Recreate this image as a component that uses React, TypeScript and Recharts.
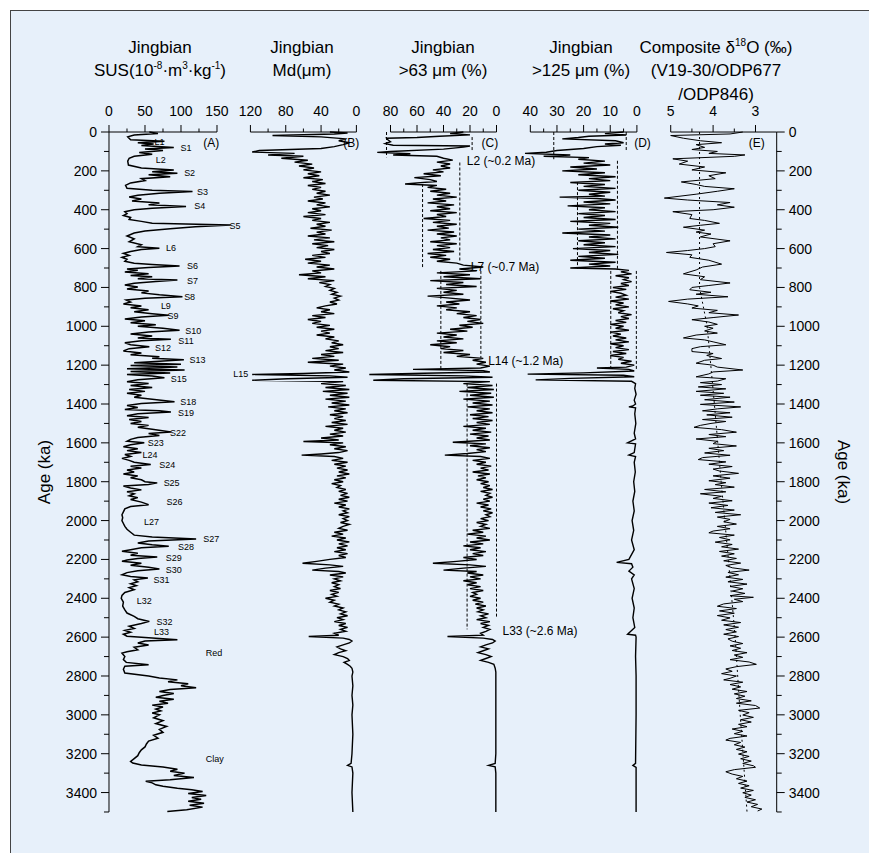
import React from 'react';
import { LineChart, Line, XAxis, YAxis, ReferenceLine, ReferenceDot } from 'recharts';

type Pt = [number, number];
type Seg = [number, number, number];
type Lab = [string, number, number];

const FONT = '"Liberation Sans", Arial, sans-serif';
const PLOT_TOP = 132;
const PLOT_H = 680;
const AXIS_H = 40;

const ageTicks = [0, 100, 200, 300, 400, 500, 600, 700, 800, 900, 1000, 1100, 1200, 1300, 1400, 1500, 1600, 1700,
  1800, 1900, 2000, 2100, 2200, 2300, 2400, 2500, 2600, 2700, 2800, 2900, 3000, 3100, 3200, 3300, 3400, 3500];

const susTicks = [0, 25, 50, 75, 100, 125, 150];
const susMajor = [0, 50, 100, 150];
const mdTicks = [0, 20, 40, 60, 80, 100, 120];
const mdMajor = [0, 40, 80, 120];
const c63Ticks = [0, 10, 20, 30, 40, 50, 60, 70, 80];
const c63Major = [0, 20, 40, 60, 80];
const c125Ticks = [0, 5, 10, 15, 20, 25, 30, 35, 40];
const c125Major = [0, 10, 20, 30, 40];
const d18OTicks = [3, 3.5, 4, 4.5, 5];
const d18OMajor = [3, 4, 5];

// magnetic susceptibility (age ka, SUS)
const susData: Pt[] = [
  [0, 56], [8, 68], [15, 35], [25, 26], [40, 30], [48, 77], [55, 40], [62, 62], [70, 45], [80, 90], [88, 50], [95, 75],
  [105, 42], [115, 60], [125, 35], [135, 28], [150, 26], [170, 27], [185, 45], [195, 90], [205, 60], [212, 95], [220, 55],
  [230, 85], [240, 45], [250, 50], [262, 30], [275, 23], [290, 25], [300, 60], [306, 116], [315, 70], [325, 40], [335, 28],
  [345, 45], [355, 32], [365, 70], [375, 55], [383, 107], [392, 60], [400, 35], [410, 22], [420, 25], [430, 20], [440, 30],
  [450, 28], [460, 45], [470, 60], [479, 169], [488, 120], [498, 85], [510, 50], [520, 35], [535, 25], [550, 35], [565, 28],
  [580, 45], [590, 40], [598, 70], [605, 45], [615, 30], [625, 20], [635, 28], [645, 18], [655, 25], [665, 22], [675, 35],
  [682, 60], [690, 98], [698, 55], [705, 25], [712, 40], [720, 22], [730, 55], [738, 30], [745, 60], [755, 40], [762, 95],
  [770, 65], [778, 35], [788, 22], [798, 40], [808, 25], [818, 55], [828, 45], [838, 70], [848, 102], [856, 50], [865, 24],
  [875, 30], [885, 20], [895, 45], [905, 30], [915, 55], [925, 35], [935, 60], [943, 83], [952, 45], [962, 22], [972, 50],
  [982, 30], [992, 65], [1000, 40], [1010, 75], [1020, 98], [1030, 55], [1040, 30], [1050, 60], [1060, 40], [1067, 86],
  [1075, 45], [1085, 22], [1095, 30], [1105, 56], [1115, 28], [1127, 20], [1137, 45], [1147, 30], [1157, 70], [1165, 60],
  [1172, 104], [1180, 70], [1188, 35], [1195, 100], [1202, 30], [1210, 95], [1218, 25], [1225, 105], [1233, 30], [1240, 85],
  [1248, 25], [1256, 60], [1265, 77], [1275, 40], [1285, 25], [1295, 55], [1305, 30], [1315, 60], [1325, 28], [1335, 50],
  [1345, 25], [1355, 45], [1365, 35], [1375, 60], [1388, 91], [1398, 45], [1408, 25], [1418, 40], [1428, 22], [1435, 70],
  [1441, 86], [1450, 40], [1460, 25], [1470, 55], [1480, 28], [1490, 45], [1500, 30], [1510, 55], [1520, 40], [1530, 60],
  [1544, 86], [1552, 55], [1562, 70], [1572, 40], [1582, 30], [1592, 25], [1600, 49], [1610, 30], [1620, 20], [1630, 40],
  [1640, 25], [1650, 45], [1660, 22], [1670, 30], [1680, 18], [1690, 28], [1700, 35], [1711, 58], [1720, 30], [1730, 45],
  [1740, 25], [1750, 35], [1760, 20], [1770, 40], [1780, 30], [1790, 45], [1800, 50], [1806, 67], [1814, 55], [1822, 20],
  [1832, 30], [1842, 45], [1852, 25], [1862, 35], [1872, 28], [1882, 40], [1892, 30], [1905, 45], [1918, 55], [1928, 30],
  [1940, 22], [1955, 20], [1970, 18], [1985, 19], [2000, 18], [2015, 20], [2030, 22], [2045, 25], [2060, 30], [2075, 35],
  [2085, 60], [2095, 121], [2105, 55], [2115, 40], [2125, 60], [2132, 83], [2140, 45], [2150, 30], [2158, 18], [2168, 40],
  [2178, 30], [2187, 67], [2195, 40], [2203, 25], [2210, 18], [2220, 45], [2230, 30], [2240, 55], [2249, 70], [2258, 40],
  [2268, 25], [2279, 18], [2288, 30], [2296, 54], [2305, 35], [2315, 40], [2325, 30], [2335, 38], [2345, 28], [2356, 35],
  [2370, 22], [2385, 18], [2400, 17], [2420, 20], [2440, 19], [2460, 22], [2476, 25], [2493, 35], [2505, 40], [2519, 56],
  [2530, 45], [2544, 28], [2555, 35], [2565, 22], [2575, 30], [2585, 20], [2595, 25], [2605, 60], [2613, 95], [2620, 50],
  [2630, 40], [2640, 55], [2652, 35], [2665, 40], [2675, 25], [2682, 18], [2700, 22], [2715, 20], [2730, 24], [2742, 55],
  [2750, 22], [2765, 20], [2785, 22], [2800, 55], [2810, 70], [2820, 95], [2830, 82], [2840, 110], [2850, 100], [2860, 121],
  [2870, 85], [2880, 70], [2890, 90], [2900, 75], [2910, 65], [2920, 90], [2930, 70], [2940, 82], [2950, 60], [2960, 75],
  [2970, 65], [2980, 72], [2991, 60], [3000, 70], [3015, 62], [3030, 75], [3045, 65], [3060, 80], [3075, 70], [3090, 75],
  [3105, 62], [3120, 68], [3135, 55], [3150, 52], [3165, 50], [3180, 45], [3195, 42], [3210, 40], [3225, 35], [3240, 30],
  [3248, 33], [3258, 45], [3268, 75], [3280, 95], [3290, 85], [3300, 105], [3312, 90], [3322, 118], [3334, 85], [3342, 51],
  [3350, 60], [3360, 65], [3368, 75], [3378, 95], [3385, 115], [3395, 130], [3405, 110], [3415, 135], [3425, 115],
  [3435, 128], [3445, 110], [3455, 132], [3465, 112], [3475, 130], [3488, 108], [3497, 81],
];

// median grain size (age ka, µm)
const mdData: Pt[] = [
  [0, 30], [5, 10], [10, 25], [18, 95], [25, 40], [35, 12], [45, 20], [55, 8], [65, 15], [75, 25], [85, 40], [95, 110],
  [103, 118], [110, 70], [118, 100], [125, 60], [135, 85], [145, 55], [155, 70], [165, 50], [175, 65], [185, 48], [195, 60],
  [205, 40], [215, 55], [225, 42], [235, 60], [245, 38], [255, 50], [265, 35], [275, 55], [285, 40], [295, 50], [305, 35],
  [315, 45], [325, 30], [335, 48], [345, 38], [355, 55], [365, 35], [375, 45], [385, 30], [395, 50], [405, 40], [415, 55],
  [425, 35], [435, 60], [445, 40], [455, 50], [465, 30], [475, 45], [485, 35], [495, 52], [505, 28], [515, 45], [525, 35],
  [535, 55], [545, 30], [555, 48], [565, 25], [575, 50], [585, 32], [595, 45], [605, 25], [615, 40], [625, 30], [635, 50],
  [645, 35], [655, 58], [665, 40], [675, 55], [685, 30], [695, 45], [705, 25], [715, 50], [725, 40], [735, 65], [745, 35],
  [755, 55], [765, 25], [775, 42], [785, 30], [795, 35], [805, 25], [815, 30], [825, 22], [835, 28], [845, 18], [855, 25],
  [865, 20], [875, 30], [885, 22], [895, 35], [905, 45], [915, 30], [925, 40], [935, 25], [945, 50], [955, 35], [965, 55],
  [975, 40], [985, 50], [995, 30], [1005, 45], [1015, 25], [1025, 40], [1035, 30], [1045, 45], [1055, 25], [1065, 35],
  [1075, 20], [1085, 28], [1095, 15], [1105, 30], [1115, 20], [1125, 35], [1135, 15], [1145, 40], [1155, 25], [1165, 50],
  [1175, 20], [1185, 55], [1195, 15], [1205, 30], [1215, 12], [1225, 25], [1235, 8], [1243, 60], [1248, 118], [1255, 30],
  [1262, 10], [1270, 78], [1278, 118], [1285, 15], [1295, 40], [1305, 12], [1315, 35], [1325, 8], [1335, 38], [1345, 10],
  [1355, 30], [1365, 8], [1375, 35], [1385, 12], [1395, 28], [1405, 8], [1415, 32], [1425, 12], [1435, 25], [1445, 10],
  [1455, 30], [1465, 15], [1475, 25], [1485, 12], [1495, 28], [1505, 10], [1515, 35], [1525, 15], [1535, 25], [1545, 12],
  [1555, 30], [1565, 15], [1575, 40], [1585, 20], [1593, 60], [1600, 15], [1610, 30], [1620, 12], [1630, 25], [1640, 10],
  [1650, 20], [1657, 40], [1663, 62], [1670, 25], [1680, 15], [1690, 28], [1700, 10], [1710, 25], [1720, 12], [1730, 22],
  [1740, 10], [1750, 20], [1760, 8], [1770, 22], [1780, 12], [1790, 25], [1800, 15], [1810, 28], [1820, 18], [1830, 22],
  [1840, 12], [1850, 20], [1860, 10], [1870, 18], [1880, 8], [1890, 20], [1900, 10], [1910, 25], [1920, 12], [1930, 20],
  [1940, 8], [1950, 15], [1960, 10], [1970, 20], [1980, 8], [1990, 15], [2000, 10], [2010, 18], [2020, 8], [2030, 15],
  [2040, 20], [2050, 10], [2060, 25], [2070, 15], [2080, 28], [2090, 12], [2100, 22], [2110, 8], [2120, 20], [2130, 10],
  [2140, 22], [2150, 12], [2160, 25], [2170, 10], [2180, 20], [2190, 12], [2200, 30], [2210, 45], [2220, 61], [2228, 30],
  [2236, 15], [2245, 35], [2255, 50], [2262, 20], [2270, 12], [2280, 30], [2290, 15], [2300, 25], [2310, 18], [2320, 28],
  [2330, 20], [2340, 25], [2350, 18], [2360, 30], [2370, 20], [2380, 28], [2390, 22], [2400, 35], [2410, 25], [2420, 30],
  [2430, 20], [2440, 25], [2450, 15], [2460, 20], [2470, 12], [2480, 18], [2490, 10], [2500, 22], [2510, 15], [2520, 25],
  [2530, 12], [2540, 20], [2550, 10], [2560, 18], [2570, 12], [2580, 25], [2590, 20], [2597, 54], [2605, 15], [2612, 8],
  [2620, 5], [2630, 8], [2640, 15], [2650, 22], [2660, 18], [2670, 12], [2680, 20], [2690, 25], [2700, 15], [2710, 10],
  [2720, 8], [2730, 14], [2740, 10], [2750, 7], [2760, 5], [2780, 4], [2800, 5], [2850, 4], [2900, 5], [2950, 4], [3000, 5],
  [3100, 4], [3200, 5], [3250, 6], [3260, 10], [3268, 5], [3300, 4], [3400, 5], [3500, 4],
];

// >63 µm fraction (age ka, %)
const c63Data: Pt[] = [
  [0, 25], [8, 35], [15, 20], [22, 43], [28, 60], [32, 83], [40, 82], [50, 80], [60, 84], [68, 78], [72, 20], [78, 25],
  [88, 40], [100, 80], [105, 90], [112, 65], [118, 78], [125, 45], [135, 40], [145, 33], [155, 45], [165, 35], [175, 42],
  [185, 35], [195, 48], [205, 40], [215, 55], [225, 42], [235, 62], [245, 50], [255, 45], [262, 60], [268, 69], [275, 45],
  [285, 52], [295, 38], [305, 50], [315, 35], [325, 45], [335, 30], [345, 48], [355, 38], [365, 52], [375, 32], [385, 45],
  [395, 35], [405, 50], [415, 30], [425, 45], [435, 38], [445, 55], [455, 35], [465, 48], [475, 30], [485, 45], [495, 36],
  [505, 52], [515, 32], [525, 45], [535, 30], [545, 42], [555, 35], [565, 50], [575, 30], [585, 45], [595, 35], [605, 48],
  [615, 32], [625, 52], [635, 38], [645, 50], [655, 35], [665, 45], [675, 30], [685, 25], [695, 10], [705, 28], [715, 15],
  [725, 45], [735, 20], [745, 40], [755, 12], [765, 50], [775, 25], [785, 38], [795, 15], [805, 45], [815, 30], [825, 40],
  [835, 25], [845, 52], [855, 35], [865, 20], [875, 38], [885, 28], [895, 45], [905, 30], [915, 38], [925, 20], [935, 30],
  [945, 15], [955, 25], [965, 12], [975, 22], [985, 10], [995, 28], [1005, 18], [1015, 35], [1025, 22], [1035, 45],
  [1045, 30], [1055, 40], [1065, 25], [1075, 45], [1085, 30], [1095, 50], [1105, 35], [1115, 42], [1125, 25], [1135, 40],
  [1145, 20], [1155, 30], [1165, 10], [1175, 18], [1185, 8], [1195, 15], [1205, 5], [1215, 12], [1222, 63], [1228, 10],
  [1235, 5], [1242, 55], [1248, 96], [1255, 25], [1262, 3], [1270, 70], [1278, 93], [1285, 5], [1295, 25], [1305, 3],
  [1315, 22], [1325, 2], [1335, 28], [1345, 4], [1355, 20], [1365, 2], [1375, 25], [1385, 5], [1395, 18], [1405, 3],
  [1415, 22], [1425, 5], [1435, 15], [1445, 3], [1455, 20], [1465, 6], [1475, 18], [1485, 3], [1495, 15], [1505, 5],
  [1515, 25], [1525, 8], [1535, 18], [1545, 4], [1555, 20], [1565, 6], [1575, 15], [1585, 5], [1597, 33], [1605, 8],
  [1615, 20], [1625, 5], [1635, 15], [1645, 8], [1655, 22], [1663, 39], [1670, 12], [1680, 5], [1690, 18], [1700, 8],
  [1710, 15], [1720, 4], [1730, 12], [1740, 6], [1750, 18], [1760, 5], [1770, 14], [1780, 8], [1790, 15], [1800, 6],
  [1810, 12], [1820, 5], [1830, 10], [1840, 3], [1850, 12], [1860, 5], [1870, 8], [1880, 3], [1890, 10], [1900, 5],
  [1910, 15], [1920, 6], [1930, 12], [1940, 4], [1950, 10], [1960, 3], [1970, 8], [1980, 5], [1990, 12], [2000, 6],
  [2010, 15], [2020, 8], [2030, 12], [2040, 5], [2050, 18], [2060, 10], [2070, 22], [2080, 8], [2090, 15], [2100, 5],
  [2110, 20], [2120, 10], [2130, 25], [2140, 12], [2150, 20], [2160, 8], [2170, 18], [2180, 10], [2190, 25], [2200, 15],
  [2210, 30], [2220, 48], [2228, 20], [2236, 8], [2245, 25], [2255, 40], [2262, 15], [2270, 22], [2280, 10], [2290, 20],
  [2300, 12], [2310, 25], [2320, 15], [2330, 22], [2340, 12], [2350, 20], [2360, 10], [2370, 18], [2380, 15], [2390, 20],
  [2400, 12], [2410, 18], [2420, 10], [2430, 16], [2440, 8], [2450, 15], [2460, 10], [2470, 14], [2480, 6], [2490, 12],
  [2500, 8], [2510, 15], [2520, 5], [2530, 12], [2540, 6], [2550, 10], [2560, 5], [2570, 8], [2580, 12], [2590, 10],
  [2597, 37], [2605, 10], [2612, 3], [2620, 1], [2630, 3], [2640, 8], [2650, 12], [2660, 6], [2670, 10], [2680, 14],
  [2690, 8], [2700, 4], [2710, 8], [2720, 12], [2730, 6], [2740, 2], [2760, 1], [2780, 0.5], [2800, 0.5], [3000, 0.5],
  [3200, 0.5], [3250, 1], [3260, 6], [3268, 1], [3300, 0.5], [3500, 0.5],
];

// >125 µm fraction (age ka, %)
const c125Data: Pt[] = [
  [0, 5], [8, 12], [15, 4], [22, 18], [28, 22], [35, 28], [45, 8], [55, 5], [62, 12], [68, 6], [75, 15], [85, 20], [95, 30],
  [104, 34], [110, 42], [118, 25], [125, 35], [132, 18], [140, 22], [150, 12], [160, 20], [170, 10], [180, 25], [190, 15],
  [200, 28], [210, 12], [220, 22], [230, 8], [240, 18], [250, 10], [260, 25], [270, 12], [280, 20], [290, 8], [300, 22],
  [310, 10], [320, 18], [330, 12], [335, 29], [342, 15], [350, 8], [360, 20], [370, 10], [380, 26], [390, 12], [400, 18],
  [410, 8], [420, 22], [430, 12], [440, 20], [450, 8], [460, 25], [470, 10], [480, 18], [490, 7], [500, 22], [510, 12],
  [520, 28], [530, 10], [540, 18], [550, 8], [560, 22], [570, 12], [580, 20], [590, 8], [600, 24], [610, 10], [620, 18],
  [630, 7], [640, 22], [650, 12], [660, 25], [670, 8], [680, 18], [690, 10], [700, 25], [705, 8], [712, 3], [720, 6],
  [730, 2], [740, 8], [750, 3], [760, 5], [770, 2], [780, 6], [790, 3], [800, 9], [810, 4], [820, 10], [830, 6], [840, 4],
  [850, 8], [860, 3], [870, 10], [880, 5], [890, 8], [900, 3], [910, 9], [920, 5], [930, 7], [940, 2], [950, 6], [960, 3],
  [970, 8], [980, 4], [990, 10], [1000, 5], [1010, 8], [1020, 3], [1030, 10], [1040, 6], [1050, 9], [1060, 4], [1070, 8],
  [1080, 3], [1090, 10], [1100, 5], [1110, 8], [1120, 3], [1130, 9], [1140, 4], [1150, 10], [1160, 5], [1170, 7], [1180, 2],
  [1190, 6], [1200, 1], [1210, 4], [1215, 15], [1222, 3], [1230, 1], [1240, 20], [1246, 41], [1252, 5], [1260, 1],
  [1268, 25], [1276, 38], [1283, 2], [1295, 0.5], [1320, 0.8], [1350, 0.3], [1380, 1], [1400, 0.5], [1410, 1.5],
  [1415, 3], [1420, 0.5], [1450, 0.8], [1500, 0.4], [1550, 1], [1580, 0.5], [1600, 3.5], [1605, 0.5], [1650, 1],
  [1663, 3], [1670, 0.5], [1700, 1], [1750, 0.6], [1800, 1.2], [1850, 0.8], [1900, 1.5], [1950, 1], [2000, 1.8],
  [2050, 1.2], [2100, 2], [2150, 1], [2200, 3], [2215, 7.6], [2222, 2], [2240, 1.5], [2260, 3], [2280, 1], [2300, 2],
  [2350, 1], [2400, 1.8], [2450, 1], [2500, 1.5], [2550, 0.8], [2585, 3.5], [2590, 0.5], [2600, 0.3], [2700, 0.5],
  [2800, 0.3], [3000, 0.3], [3250, 0.5], [3260, 1.5], [3270, 0.3], [3500, 0.3],
];

// composite benthic d18O (age ka, permil)
const d18OData: Pt[] = [
  [0, 3.3], [10, 3.6], [18, 5.0], [25, 4.85], [32, 4.7], [45, 4.3], [55, 3.8], [65, 4.4], [79, 4.2], [90, 4.5], [100, 3.9],
  [110, 4.1], [118, 3.25], [125, 3.5], [138, 4.95], [150, 4.6], [165, 4.8], [180, 4.2], [195, 4.5], [210, 3.7], [225, 4.1],
  [240, 3.95], [257, 4.75], [270, 4.4], [280, 4.2], [292, 3.5], [305, 3.9], [320, 4.4], [340, 5.15], [350, 4.6], [363, 3.6],
  [375, 3.9], [387, 3.5], [400, 4.0], [410, 4.95], [425, 4.5], [445, 4.55], [455, 4.2], [470, 3.85], [480, 4.3], [490, 4.7],
  [505, 4.2], [515, 4.4], [525, 4.05], [540, 4.3], [560, 3.6], [575, 4.0], [590, 3.95], [600, 4.2], [610, 4.6], [620, 5.1],
  [632, 4.5], [645, 4.55], [660, 4.1], [680, 3.8], [695, 4.25], [710, 4.4], [730, 4.7], [745, 4.2], [760, 4.3], [777, 3.6],
  [790, 4.1], [800, 4.5], [812, 4.55], [825, 4.05], [835, 4.4], [848, 3.65], [860, 4.6], [872, 5.05], [885, 4.6],
  [895, 4.35], [906, 4.5], [918, 3.9], [930, 4.1], [942, 3.4], [955, 4.0], [966, 4.5], [978, 4.1], [990, 3.9], [1000, 4.2],
  [1010, 4.0], [1024, 4.2], [1035, 3.9], [1045, 4.4], [1060, 4.7], [1070, 4.2], [1080, 4.0], [1095, 3.7], [1105, 4.3],
  [1115, 4.5], [1130, 4.5], [1140, 4.0], [1150, 4.15], [1166, 3.8], [1175, 4.2], [1190, 4.4], [1200, 4.0], [1210, 3.9],
  [1225, 3.3], [1235, 4.0], [1245, 4.1], [1260, 4.4], [1270, 3.7], [1282, 3.9], [1290, 4.3], [1300, 3.8], [1312, 4.35],
  [1322, 3.7], [1335, 4.4], [1345, 3.75], [1355, 4.3], [1365, 3.6], [1378, 4.2], [1390, 3.5], [1402, 4.3], [1415, 3.35],
  [1425, 3.9], [1435, 4.25], [1445, 3.6], [1456, 4.15], [1468, 3.55], [1480, 4.25], [1490, 3.7], [1500, 4.05], [1510, 4.3],
  [1520, 4.45], [1532, 3.8], [1545, 3.45], [1557, 4.1], [1568, 3.7], [1580, 4.4], [1592, 3.9], [1604, 4.0], [1616, 3.45],
  [1628, 4.1], [1640, 3.75], [1652, 4.2], [1664, 3.6], [1676, 4.25], [1686, 4.35], [1698, 3.7], [1710, 4.1], [1722, 3.55],
  [1735, 4.0], [1745, 3.85], [1757, 3.4], [1770, 4.0], [1782, 3.6], [1795, 4.1], [1805, 3.7], [1815, 3.95], [1828, 3.5],
  [1840, 4.2], [1852, 3.7], [1862, 4.3], [1875, 3.8], [1886, 4.0], [1898, 3.55], [1910, 4.1], [1922, 3.65], [1934, 4.05],
  [1946, 3.5], [1958, 3.95], [1970, 3.35], [1982, 3.9], [1994, 3.6], [2006, 3.75], [2018, 3.45], [2030, 3.9], [2042, 3.6],
  [2054, 4.0], [2063, 4.1], [2075, 3.5], [2087, 3.85], [2099, 3.6], [2111, 3.95], [2123, 3.55], [2135, 3.8], [2147, 3.4],
  [2159, 3.85], [2171, 3.5], [2183, 3.8], [2195, 3.45], [2207, 3.75], [2219, 3.35], [2231, 3.7], [2243, 3.55], [2255, 3.15],
  [2267, 3.65], [2279, 3.4], [2291, 3.7], [2303, 3.3], [2315, 3.65], [2327, 3.2], [2339, 3.6], [2351, 3.3], [2363, 3.55],
  [2375, 3.25], [2387, 3.6], [2395, 3.05], [2405, 3.5], [2417, 3.3], [2429, 3.75], [2441, 3.9], [2453, 3.45], [2465, 3.85],
  [2477, 3.5], [2489, 3.9], [2501, 3.6], [2513, 3.8], [2525, 3.35], [2537, 3.75], [2549, 3.4], [2561, 3.7], [2573, 3.45],
  [2585, 3.75], [2597, 3.4], [2609, 3.65], [2621, 3.55], [2633, 3.3], [2645, 3.6], [2657, 3.35], [2669, 3.55], [2680, 3.2],
  [2692, 3.5], [2704, 3.3], [2716, 3.6], [2728, 3.15], [2740, 2.98], [2752, 3.45], [2764, 3.7], [2776, 3.55], [2788, 3.8],
  [2800, 3.45], [2812, 3.6], [2820, 3.75], [2832, 3.3], [2844, 3.6], [2856, 3.35], [2868, 3.55], [2880, 3.2], [2892, 3.5],
  [2904, 3.25], [2916, 3.45], [2928, 3.1], [2940, 3.45], [2952, 3.0], [2965, 2.9], [2977, 3.4], [2989, 3.15], [3001, 3.3],
  [3013, 3.05], [3025, 3.35], [3037, 3.1], [3049, 3.4], [3061, 3.2], [3073, 3.55], [3085, 3.3], [3097, 3.5], [3109, 3.2],
  [3121, 3.6], [3130, 3.7], [3142, 3.35], [3154, 3.5], [3166, 3.25], [3178, 3.45], [3190, 3.2], [3202, 3.4], [3214, 3.15],
  [3226, 3.35], [3238, 3.1], [3250, 3.3], [3262, 3.05], [3270, 3.0], [3282, 3.5], [3293, 3.7], [3305, 3.55], [3317, 3.3],
  [3329, 3.45], [3341, 3.2], [3353, 3.4], [3365, 3.15], [3377, 3.35], [3389, 3.05], [3401, 3.3], [3413, 3.1], [3425, 3.25],
  [3437, 3.0], [3449, 3.2], [3461, 2.95], [3473, 3.1], [3485, 2.85], [3495, 2.95],
];

const d18OTrend: Pt[] = [
  [0, 4.32], [800, 4.32], [1000, 4.14], [1400, 3.97], [1800, 3.81], [2200, 3.64], [2600, 3.48], [3000, 3.36], [3500, 3.2],
];

// dashed range markers: value, age from, age to
const c63Ranges: Seg[] = [
  [83, 0, 130], [18.4, 26, 98], [55.8, 268, 697], [27.7, 157, 662], [42, 715, 1225], [11.8, 715, 1163],
  [22.2, 1295, 2560], [0, 1295, 2500],
];
const c125Ranges: Seg[] = [
  [31.2, 0, 140], [4, 0, 96], [22.3, 258, 704], [7.3, 148, 704], [9.8, 715, 1225], [0.2, 715, 1225],
];

const susLabels: Lab[] = [
  ['L1', 48, 70], ['S1', 82, 107], ['L2', 143, 72], ['S2', 211, 112], ['S3', 307, 130], ['S4', 382, 126],
  ['S5', 482, 175], ['L6', 597, 86], ['S6', 690, 116], ['S7', 765, 116], ['S8', 848, 112], ['L9', 896, 79],
  ['S9', 947, 89], ['S10', 1021, 117], ['S11', 1072, 107], ['S12', 1110, 75], ['S13', 1173, 123], ['L15', 1246, 183],
  ['S15', 1268, 97], ['S18', 1388, 110], ['S19', 1443, 107], ['S22', 1546, 96], ['S23', 1602, 65], ['L24', 1659, 57],
  ['S24', 1712, 81], ['S25', 1803, 87], ['S26', 1904, 91], ['L27', 2004, 59], ['S27', 2095, 142], ['S28', 2134, 107],
  ['S29', 2192, 90], ['S30', 2253, 90], ['S31', 2307, 73], ['L32', 2415, 49], ['S32', 2520, 77], ['L33', 2570, 73],
  ['Red', 2683, 146], ['Clay', 3227, 147],
];
const c63Labels: Lab[] = [
  ['L2 (~0.2 Ma)', 148, 22.4], ['L7 (~0.7 Ma)', 691, 19.4], ['L14 (~1.2 Ma)', 1177, 6.3], ['L33 (~2.6 Ma)', 2568, -4.5],
];

const rows = (pts: Pt[]) => pts.map(([age, v]) => ({ age, v }));

const topTick = (majors: number[]) => (p: any) => {
  const v = p.payload.value;
  const major = majors.includes(v);
  return (
    <g>
      <line x1={p.x} y1={p.y} x2={p.x} y2={p.y - (major ? 7 : 3.5)} stroke="#000" />
      {major && (
        <text x={p.x} y={p.y - 16} textAnchor="middle" fontSize={14} fontFamily={FONT} fill="#000">{v}</text>
      )}
    </g>
  );
};

const ageTick = (side: 'left' | 'right') => (p: any) => {
  const v = p.payload.value;
  const major = v % 200 === 0;
  const s = side === 'left' ? -1 : 1;
  return (
    <g>
      <line x1={p.x} y1={p.y} x2={p.x + s * (major ? 8 : 5)} y2={p.y} stroke="#000" />
      {major && (
        <text x={p.x + s * 12} y={p.y} dy="0.36em" textAnchor={side === 'left' ? 'end' : 'start'} fontSize={14}
          fontFamily={FONT} fill="#000">{v}</text>
      )}
    </g>
  );
};

const textMark = (label: string, size: number, anchor: string) => (p: any) => (
  <text x={p.cx} y={p.cy} dy="0.36em" textAnchor={anchor} fontSize={size} fontFamily={FONT} fill="#000">{label}</text>
);

const topAxis = (domain: number[], reversed: boolean, ticks: number[], majors: number[]) => (
  <XAxis type="number" orientation="top" domain={domain} reversed={reversed} ticks={ticks} interval={0} height={AXIS_H}
    axisLine={false} tickLine={false} tickSize={0} tickMargin={0} tick={topTick(majors)} />
);

const axisLine = (from: number, to: number) => (
  <ReferenceLine segment={[{ x: from, y: 0 }, { x: to, y: 0 }]} stroke="#000" ifOverflow="visible" />
);

const seriesLine = (pts: Pt[], key: string, w = 1.4) => (
  <Line key={key} data={rows(pts)} dataKey="v" type="linear" stroke="#000" strokeWidth={w} dot={false}
    strokeLinejoin="miter" isAnimationActive={false} />
);

const rangeLines = (segs: Seg[], key: string) =>
  segs.map(([v, a0, a1], i) => (
    <Line key={key + i} data={rows([[a0, v], [a1, v]])} dataKey="v" type="linear" stroke="#000" strokeWidth={1}
      strokeDasharray="3 2" dot={false} isAnimationActive={false} />
  ));

const hiddenAge = <YAxis type="number" dataKey="age" domain={[0, 3500]} hide />;

// plot area left/width in page pixels; axisLeft/axisRight = room taken by a visible age axis
const Strip = ({ left, width, axisLeft = 0, axisRight = 0, children }: any) => (
  <div style={{ position: 'absolute', left: left - axisLeft, top: PLOT_TOP - AXIS_H }}>
    <LineChart width={width + axisLeft + axisRight} height={AXIS_H + PLOT_H} layout="vertical"
      margin={{ top: 0, right: 0, bottom: 0, left: 0 }}>
      {children}
    </LineChart>
  </div>
);

const TITLE_Y = [47.5, 71, 94.5];
const Title = ({ cx, lines }: { cx: number; lines: React.ReactNode[] }) => (
  <>
    {lines.map((l, i) => (
      <div key={i} style={{ position: 'absolute', left: cx - 110, width: 220, top: TITLE_Y[i] - 9, height: 18,
        lineHeight: '18px', textAlign: 'center', fontFamily: FONT, fontSize: 17, color: '#000', whiteSpace: 'nowrap' }}>
        {l}
      </div>
    ))}
  </>
);

const sup = (t: string) => <sup style={{ fontSize: 10, verticalAlign: 'baseline', position: 'relative', top: -7 }}>{t}</sup>;

export default function App() {
  return (
    <div style={{ position: 'absolute', left: 0, top: 0, width: 869, height: 853, overflow: 'hidden', background: '#fff' }}>
      <style>{'.recharts-surface{overflow:visible}.recharts-wrapper{overflow:visible}'}</style>
      <div style={{ position: 'absolute', left: 10, top: 10, width: 900, height: 900, background: '#e7f0fa',
        borderLeft: '1px solid #444', borderTop: '1px solid #444' }} />

      <Title cx={160} lines={['Jingbian', <>SUS(10{sup('-8')}·m{sup('3')}·kg{sup('-1')})</>]} />
      <Title cx={302} lines={['Jingbian', 'Md(μm)']} />
      <Title cx={443} lines={['Jingbian', '>63 μm (%)']} />
      <Title cx={581} lines={['Jingbian', '>125 μm (%)']} />
      <Title cx={716} lines={[<>Composite δ{sup('18')}O (‰)</>, '(V19-30/ODP677', '/ODP846)']} />

      <div style={{ position: 'absolute', left: -5, top: 462, width: 100, height: 20, lineHeight: '20px', textAlign: 'center',
        fontFamily: FONT, fontSize: 17, transform: 'rotate(-90deg)' }}>Age (ka)</div>
      <div style={{ position: 'absolute', left: 793, top: 462, width: 100, height: 20, lineHeight: '20px', textAlign: 'center',
        fontFamily: FONT, fontSize: 17, transform: 'rotate(90deg)' }}>Age (ka)</div>

      {/* A: SUS */}
      <Strip left={109} width={129.6} axisLeft={60}>
        {topAxis([0, 180], false, susTicks, susMajor)}
        <YAxis type="number" dataKey="age" domain={[0, 3500]} ticks={ageTicks} interval={0} width={60} orientation="left"
          tickLine={false} tickSize={0} tickMargin={0} tick={ageTick('left')} stroke="#000" />
        {axisLine(0, 150)}
        {seriesLine(susData, 'sus', 1.5)}
        {susLabels.map(([t, a, v]) => (
          <ReferenceDot key={t} x={v} y={a} r={0} ifOverflow="visible" shape={textMark(t, 9, 'middle')} />
        ))}
        <ReferenceDot x={142} y={53} r={0} ifOverflow="visible" shape={textMark('(A)', 12, 'middle')} />
      </Strip>

      {/* B: Md */}
      <Strip left={245.6} width={110.4}>
        {topAxis([0, 125], true, mdTicks, mdMajor)}
        {hiddenAge}
        {axisLine(120, 0)}
        {seriesLine(mdData, 'md')}
        <ReferenceDot x={5.7} y={57} r={0} ifOverflow="visible" shape={textMark('(B)', 12, 'middle')} />
      </Strip>

      {/* C: >63 um */}
      <Strip left={364.2} width={132.5}>
        {topAxis([0, 100], true, c63Ticks, c63Major)}
        {hiddenAge}
        {axisLine(80, 0)}
        {rangeLines(c63Ranges, 'r63')}
        {seriesLine(c63Data, 'c63')}
        {c63Labels.map(([t, a, v]) => (
          <ReferenceDot key={t} x={v} y={a} r={0} ifOverflow="visible" shape={textMark(t, 12, 'start')} />
        ))}
        <ReferenceDot x={5} y={53} r={0} ifOverflow="visible" shape={textMark('(C)', 12, 'middle')} />
      </Strip>

      {/* D: >125 um */}
      <Strip left={517.4} width={119.9}>
        {topAxis([0, 45], true, c125Ticks, c125Major)}
        {hiddenAge}
        {axisLine(40, 0)}
        {rangeLines(c125Ranges, 'r125')}
        {seriesLine(c125Data, 'c125')}
        <ReferenceDot x={-2.1} y={53} r={0} ifOverflow="visible" shape={textMark('(D)', 12, 'middle')} />
      </Strip>

      {/* E: d18O */}
      <Strip left={658.3} width={118.7} axisRight={70}>
        {topAxis([2.5, 5.3], true, d18OTicks, d18OMajor)}
        <YAxis type="number" dataKey="age" domain={[0, 3500]} ticks={ageTicks} interval={0} width={70} orientation="right"
          tickLine={false} tickSize={0} tickMargin={0} tick={ageTick('right')} stroke="#000" />
        {axisLine(5, 2.5)}
        <Line data={rows(d18OTrend)} dataKey="v" type="linear" stroke="#000" strokeWidth={1} strokeDasharray="2 3"
          dot={false} isAnimationActive={false} />
        {seriesLine(d18OData, 'd18o', 1)}
        <ReferenceDot x={2.97} y={56} r={0} ifOverflow="visible" shape={textMark('(E)', 12, 'middle')} />
      </Strip>
    </div>
  );
}
